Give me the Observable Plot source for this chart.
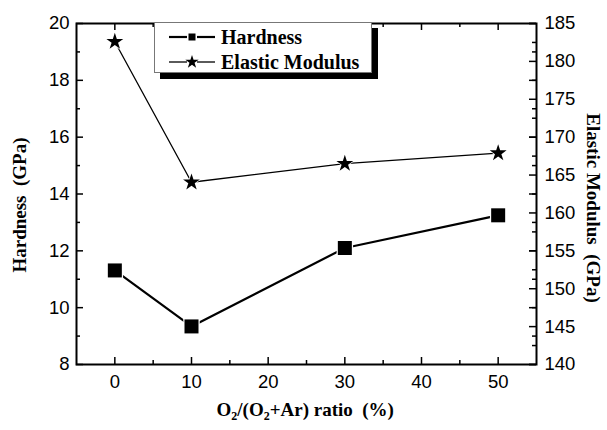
<!DOCTYPE html>
<html>
<head>
<meta charset="utf-8">
<script src="https://cdn.jsdelivr.net/npm/d3@7"></script>
<script src="https://cdn.jsdelivr.net/npm/@observablehq/plot@0.6"></script>
<style>
  body { margin: 0; background: #fff; }
  #wrap { position: relative; width: 607px; height: 430px; }
  #wrap svg.plot { position: absolute; left: 0; top: 0; }
  .ttl { position: absolute; font-family: "Liberation Serif", "Times New Roman", serif; font-weight: bold; font-size: 19px; color: #000; white-space: pre; }
  .ttl sub { font-size: 12px; vertical-align: -4px; line-height: 0; }
  #legend { position: absolute; left: 154px; top: 22px; width: 218px; height: 51px; background: #fff; border: 1px solid #777; box-shadow: 6px 6px 0 #000; box-sizing: border-box; }
  #legend .row { position: absolute; left: 0; height: 22px; display: flex; align-items: center; }
  #legend .row span { font-family: "Liberation Serif", "Times New Roman", serif; font-weight: bold; font-size: 20px; margin-left: 4px; white-space: nowrap; }
</style>
</head>
<body>
<div id="wrap"></div>
<script>
// ---- data ----
const ratio = [0, 10, 30, 50];
const hardness = [11.31, 9.34, 12.1, 13.25];
const modulus = [182.6, 164.05, 166.5, 167.9];
const xTicks = [0, 10, 20, 30, 40, 50];
const xMinor = [5, 15, 25, 35, 45];
const hTicks = [8, 10, 12, 14, 16, 18, 20];
const hMinor = [9, 11, 13, 15, 17, 19];
const mTicks = [140, 145, 150, 155, 160, 165, 170, 175, 180, 185];
const mMinor = [142.5, 147.5, 152.5, 157.5, 162.5, 167.5, 172.5, 177.5, 182.5];
const seriesNames = ["Hardness", "Elastic Modulus"];

// ---- layout ----
const W = 607, H = 430, mL = 76, mR = 71, mT = 23, mB = 66;
const fw = W - mL - mR, fh = H - mT - mB;
const hDom = [8, 20], mDom = [140, 185];
const toH = m => hDom[0] + (m - mDom[0]) * (hDom[1] - hDom[0]) / (mDom[1] - mDom[0]);
const fromH = h => mDom[0] + (h - hDom[0]) * (mDom[1] - mDom[0]) / (hDom[1] - hDom[0]);

const hData = ratio.map((r, i) => ({x: r, y: hardness[i]}));
const mData = ratio.map((r, i) => ({x: r, y: toH(modulus[i])}));

const major = 7, minor = 4;
const tickFont = {fontSize: 18.5, fontFamily: "Liberation Sans, Arial, sans-serif"};

const chart = Plot.plot({
  width: W, height: H,
  marginLeft: mL, marginRight: mR, marginTop: mT, marginBottom: mB,
  x: {domain: [-5, 55]},
  y: {domain: hDom},
  style: {background: "white", color: "black", overflow: "visible"},
  marks: [
    Plot.ruleX(xTicks, {insetTop: fh - major, strokeWidth: 1.5}),
    Plot.ruleX(xMinor, {insetTop: fh - minor, strokeWidth: 1.5}),
    Plot.ruleX(xTicks, {insetBottom: fh - major, strokeWidth: 1.5}),
    Plot.ruleX(xMinor, {insetBottom: fh - minor, strokeWidth: 1.5}),
    Plot.ruleY(hTicks, {insetRight: fw - major, strokeWidth: 1.5}),
    Plot.ruleY(hMinor, {insetRight: fw - minor, strokeWidth: 1.5}),
    Plot.ruleY(hTicks, {insetLeft: fw - major, strokeWidth: 1.5}),
    Plot.ruleY(hMinor, {insetLeft: fw - minor, strokeWidth: 1.5}),
    Plot.ruleY(mTicks, {y: d => toH(d), insetLeft: fw - major, strokeWidth: 1.5}),
    Plot.ruleY(mMinor, {y: d => toH(d), insetLeft: fw - minor, strokeWidth: 1.5}),
    Plot.frame({stroke: "black", strokeWidth: 2}),
    Plot.axisX({ticks: xTicks, tickSize: 0, tickPadding: 10, label: null, ...tickFont}),
    Plot.axisY({ticks: hTicks, tickSize: 0, tickPadding: 7, label: null, ...tickFont}),
    Plot.axisY(mTicks.map(toH), {anchor: "right", tickSize: 0, tickPadding: 8, label: null,
      tickFormat: h => String(Math.round(fromH(h))), ...tickFont}),
    Plot.line(hData, {x: "x", y: "y", stroke: "black", strokeWidth: 2.2}),
    Plot.line(mData, {x: "x", y: "y", stroke: "black", strokeWidth: 1.3}),
    Plot.dot(hData, {x: "x", y: "y", symbol: "square", r: 9.3, fill: "white", stroke: "none"}),
    Plot.dot(hData, {x: "x", y: "y", symbol: "square", r: 7.9, fill: "black", stroke: "none"}),
    Plot.dot(mData, {x: "x", y: "y", symbol: "star", r: 6.6, fill: "white", stroke: "none"}),
    Plot.dot(mData, {x: "x", y: "y", symbol: "star", r: 5.3, fill: "black", stroke: "none"})
  ]
});
chart.classList.add("plot");
const wrap = document.getElementById("wrap");
wrap.appendChild(chart);

const xt = document.createElement("div");
xt.className = "ttl";
xt.innerHTML = "O<sub>2</sub>/(O<sub>2</sub>+Ar) ratio  (%)";
wrap.appendChild(xt);
xt.style.left = (305 - xt.offsetWidth / 2) + "px";
xt.style.top = "399px";

const yl = document.createElement("div");
yl.className = "ttl";
yl.textContent = "Hardness  (GPa)";
wrap.appendChild(yl);
yl.style.left = (19 - yl.offsetWidth / 2) + "px";
yl.style.top = (205 - yl.offsetHeight / 2) + "px";
yl.style.transform = "rotate(-90deg)";

const yr = document.createElement("div");
yr.className = "ttl";
yr.textContent = "Elastic Modulus  (GPa)";
wrap.appendChild(yr);
yr.style.left = (592 - yr.offsetWidth / 2) + "px";
yr.style.top = (208 - yr.offsetHeight / 2) + "px";
yr.style.transform = "rotate(90deg)";

const lg = document.createElement("div");
lg.id = "legend";
lg.innerHTML = `
  <div class="row" style="top:3px;left:12px">
    <svg width="50" height="22"><line x1="2" y1="11" x2="20" y2="11" stroke="black" stroke-width="2.2"/><line x1="30" y1="11" x2="48" y2="11" stroke="black" stroke-width="2.2"/><rect x="21.5" y="7.5" width="7" height="7" fill="black"/></svg>
    <span>${seriesNames[0]}</span></div>
  <div class="row" style="top:28px;left:12px">
    <svg width="50" height="22"><line x1="2" y1="11" x2="20" y2="11" stroke="black" stroke-width="1.3"/><line x1="30" y1="11" x2="48" y2="11" stroke="black" stroke-width="1.3"/><path transform="translate(25,11)" d="${d3.symbol(d3.symbolStar, 55)()}" fill="black"/></svg>
    <span>${seriesNames[1]}</span></div>`;
wrap.appendChild(lg);
</script>
</body>
</html>
